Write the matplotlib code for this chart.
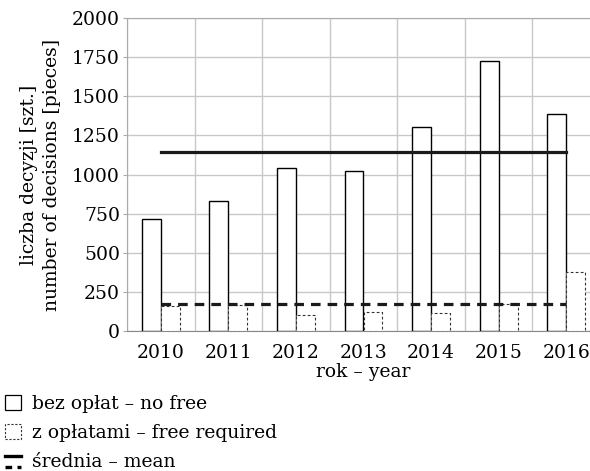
import numpy as np
import matplotlib.pyplot as plt
from matplotlib.patches import Rectangle
from matplotlib.lines import Line2D
from matplotlib.legend_handler import HandlerBase

# data
years = ['2010', '2011', '2012', '2013', '2014', '2015', '2016']
no_fee = [717, 831, 1039, 1020, 1303, 1728, 1388]
with_fee = [159, 164, 100, 123, 113, 170, 378]
y_ticks = [0, 250, 500, 750, 1000, 1250, 1500, 1750, 2000]

plt.rcParams['font.family'] = ['DejaVu Serif']
plt.rcParams['font.size'] = 13.5


class MeanHandler(HandlerBase):
    """Two stacked lines: solid on top, dashed below."""
    def create_artists(self, legend, orig_handle, xdescent, ydescent,
                       width, height, fontsize, trans):
        top = Line2D([0, width], [height * 0.75, height * 0.75],
                     color='black', lw=2.4, transform=trans)
        bot = Line2D([0, width], [height * 0.05, height * 0.05],
                     color='black', lw=2.4, ls=(0, (2, 1.6)), transform=trans)
        return [top, bot]


fig = plt.figure(figsize=(5.9, 4.71), dpi=100)
# right edge runs past the figure, as in the reference
ax = fig.add_axes([127 / 590, 140 / 471, 473 / 590, 313 / 471])

x = np.arange(len(years))
w = 0.28
ax.bar(x - w / 2, no_fee, width=w, facecolor='white', edgecolor='black',
       linewidth=1.0, zorder=3)
ax.bar(x + w / 2, with_fee, width=w, facecolor='white', edgecolor='#333333',
       linewidth=0.8, linestyle=(0, (2.5, 2)), zorder=3)

ax.plot([x[0], x[-1]], [np.mean(no_fee)] * 2, color='#1a1a1a', lw=2.3,
        zorder=4)
ax.plot([x[0], x[-1]], [np.mean(with_fee)] * 2, color='#1a1a1a', lw=2.3,
        ls=(0, (3, 2.2)), zorder=4)

ax.set_xlim(-0.5, 6.5)
ax.set_ylim(0, 2000)
ax.set_yticks(y_ticks)
ax.set_xticks(x)
ax.set_xticklabels(years)
ax.set_xticks(np.arange(-0.5, 7, 1), minor=True)
ax.grid(True, which='minor', axis='x', color='#c8c8c8', lw=1.0, zorder=0)
ax.grid(True, which='major', axis='y', color='#c8c8c8', lw=1.0, zorder=0)
ax.tick_params(axis='x', which='both', length=0, pad=9)
ax.tick_params(axis='y', length=3, color='#aaaaaa', pad=2)
for s in ax.spines.values():
    s.set_color('#aaaaaa')
ax.spines['bottom'].set_color('#888888')

ax.set_xlabel('rok – year', labelpad=1)
ax.set_ylabel('liczba decyzji [szt.]\nnumber of decisions [pieces]',
              labelpad=8, linespacing=1.35)

handles = [
    Rectangle((0, 0), 1, 1, facecolor='white', edgecolor='black', lw=0.9),
    Rectangle((0, 0), 1, 1, facecolor='white', edgecolor='#333333', lw=0.8,
              ls=(0, (2, 1.5))),
    'mean',
]
labels = ['bez opłat – no free', 'z opłatami – free required',
          'średnia – mean']
fig.legend(handles, labels, loc='lower left', bbox_to_anchor=(0.003, -0.007),
           frameon=False, handler_map={str: MeanHandler()},
           borderpad=0.15, borderaxespad=0,
           handlelength=0.85, handleheight=0.85, handletextpad=0.6,
           labelspacing=0.6, fontsize=13.5)

fig.savefig('out.png', dpi=100)
